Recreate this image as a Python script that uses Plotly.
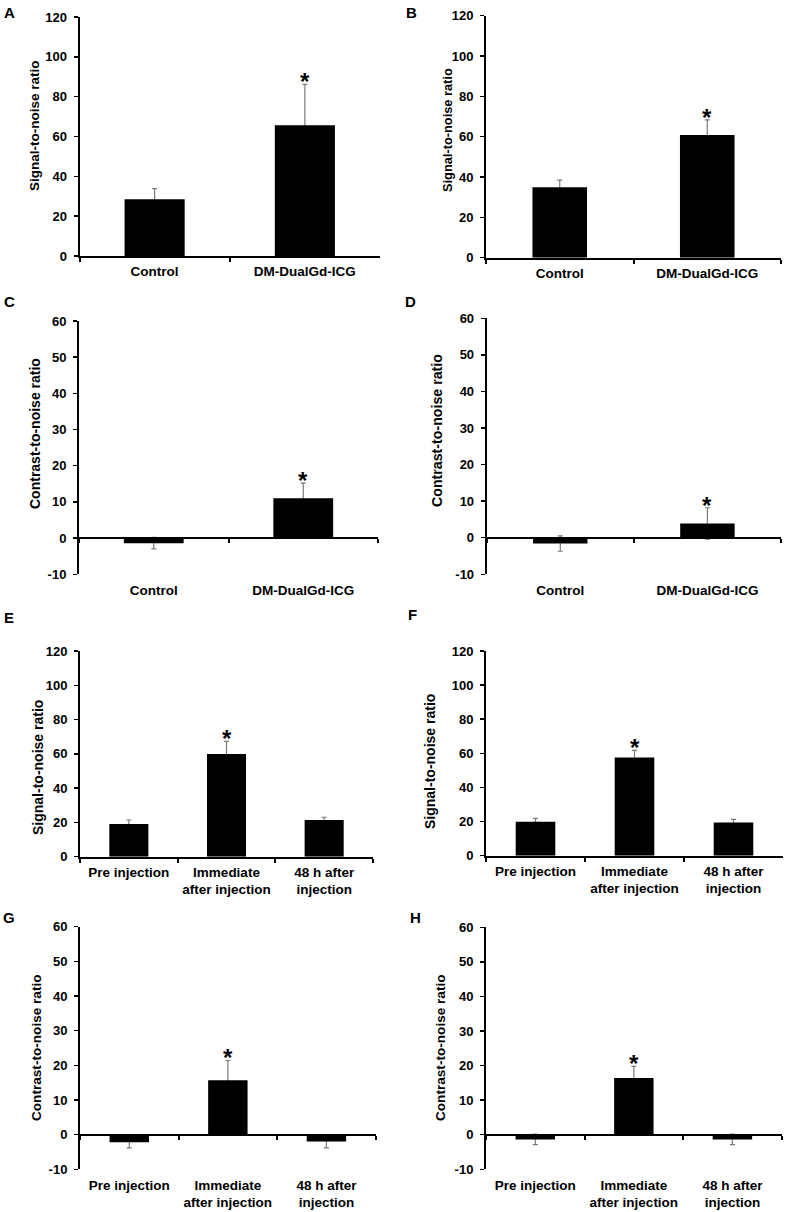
import plotly.graph_objects as go

# ---------------- data ----------------
cats_2 = ["Control", "DM-DualGd-ICG"]
cats_3 = ["Pre injection", "Immediate<br>after injection", "48 h after<br>injection"]

snr_ticks = [0, 20, 40, 60, 80, 100, 120]
cnr_ticks = [-10, 0, 10, 20, 30, 40, 50, 60]

A_snr = [28.5, 65.6]
A_err = [5.3, 20.6]
B_snr = [34.9, 60.8]
B_err = [3.6, 7.5]
C_cnr = [-1.4, 11.0]
C_err = [1.6, 4.2]
D_cnr = [-1.6, 3.9]
D_err = [2.1, 4.3]
E_snr = [19.1, 59.9, 21.4]
E_err = [2.3, 7.4, 1.6]
F_snr = [19.9, 57.6, 19.5]
F_err = [2.0, 4.2, 1.8]
G_cnr = [-2.2, 15.7, -2.0]
G_err = [1.6, 5.7, 1.8]
H_cnr = [-1.35, 16.4, -1.35]
H_err = [1.5, 3.4, 1.5]

sig_2 = [False, True]
sig_3 = [False, True, False]

snr_title = "Signal-to-noise ratio"
cnr_title = "Contrast-to-noise ratio"

# ---------------- layout / style ----------------
W, H = 787, 1212
FONT = "Liberation Sans, Arial, Helvetica, sans-serif"

panels = [
    dict(letter="A", cats=cats_2, vals=A_snr, errs=A_err, sig=sig_2, ticks=snr_ticks, title=snr_title,
         box=(79.5, 380, 17, 256), letter_xy=(9, 12), title_xy=(35, 126), title_size=13.5, barw=0.4),
    dict(letter="B", cats=cats_2, vals=B_snr, errs=B_err, sig=sig_2, ticks=snr_ticks, title=snr_title,
         box=(486, 781, 15.7, 257.7), letter_xy=(411, 12), title_xy=(447, 130), title_size=12.8, barw=0.37),
    dict(letter="C", cats=cats_2, vals=C_cnr, errs=C_err, sig=sig_2, ticks=cnr_ticks, title=cnr_title,
         box=(79, 378, 321, 574.3), letter_xy=(9, 302), title_xy=(35, 434), title_size=14, barw=0.4),
    dict(letter="D", cats=cats_2, vals=D_cnr, errs=D_err, sig=sig_2, ticks=cnr_ticks, title=cnr_title,
         box=(486.7, 781, 318.3, 574.3), letter_xy=(410, 302), title_xy=(437, 431), title_size=14.2, barw=0.37),
    dict(letter="E", cats=cats_3, vals=E_snr, errs=E_err, sig=sig_3, ticks=snr_ticks, title=snr_title,
         box=(80, 373, 651, 856.7), letter_xy=(9, 617), title_xy=(38, 768), title_size=14, barw=0.4),
    dict(letter="F", cats=cats_3, vals=F_snr, errs=F_err, sig=sig_3, ticks=snr_ticks, title=snr_title,
         box=(486, 783, 651, 855.7), letter_xy=(412, 614), title_xy=(430, 762), title_size=14, barw=0.4),
    dict(letter="G", cats=cats_3, vals=G_cnr, errs=G_err, sig=sig_3, ticks=cnr_ticks, title=cnr_title,
         box=(80, 375.7, 926.7, 1169.3), letter_xy=(9, 917), title_xy=(36, 1048), title_size=13.6, barw=0.4),
    dict(letter="H", cats=cats_3, vals=H_cnr, errs=H_err, sig=sig_3, ticks=cnr_ticks, title=cnr_title,
         box=(486, 781.7, 927.3, 1169.3), letter_xy=(415, 917), title_xy=(440, 1048), title_size=13.6, barw=0.4),
]


def px_x(v):
    return v / W


def px_y(v):
    return 1 - v / H


def ax_id(prefix, n):
    return prefix if n == 1 else f"{prefix}{n}"


def ax_key(prefix, n):
    return f"{prefix}axis" if n == 1 else f"{prefix}axis{n}"


fig = go.Figure()
layout = {}
annotations = []

tick_font = dict(family=FONT, size=13, color="black", weight="bold")
cat_font = dict(family=FONT, size=13.5, color="black", weight="bold")

for i, p in enumerate(panels):
    xm, xo, yn = 2 * i + 1, 2 * i + 2, i + 1
    x0, x1, ytop, ybot = p["box"]
    lo, hi = min(p["ticks"]), max(p["ticks"])
    n = len(p["cats"])
    xdom = [px_x(x0), px_x(x1)]
    ydom = [px_y(ybot), px_y(ytop)]
    has_neg = lo < 0

    # error bars (main subplot, drawn underneath the bars)
    fig.add_trace(go.Scatter(
        x=p["cats"], y=p["vals"], mode="markers",
        marker=dict(size=1, color="rgba(0,0,0,0)"),
        error_y=dict(type="data", array=p["errs"], symmetric=True,
                     color="#7a7a7a", thickness=1.2, width=2.5),
        xaxis=ax_id("x", xm), yaxis=ax_id("y", yn), hoverinfo="skip", showlegend=False,
    ))
    # bars (overlay subplot, drawn on top)
    fig.add_trace(go.Bar(
        x=p["cats"], y=p["vals"], width=p["barw"],
        marker=dict(color="black", line=dict(width=0)),
        xaxis=ax_id("x", xo), yaxis=ax_id("y", yn), showlegend=False,
    ))

    base_x = dict(type="category", categoryorder="array", categoryarray=p["cats"],
                  range=[-0.5, n - 0.5], domain=xdom, showgrid=False, zeroline=False,
                  fixedrange=True, tickangle=0, automargin=False)

    if not has_neg:
        layout[ax_key("x", xm)] = dict(
            base_x, anchor=ax_id("y", yn), showline=True, linecolor="black", linewidth=2,
            ticks="outside", tickson="boundaries", ticklen=4, tickwidth=2, tickcolor="black",
            showticklabels=True, tickfont=cat_font, ticklabelstandoff=2)
        layout[ax_key("x", xo)] = dict(
            base_x, anchor=ax_id("y", yn), overlaying=ax_id("x", xm), showline=False,
            ticks="", showticklabels=False)
    else:
        zero_pos = ydom[0] + (0 - lo) / (hi - lo) * (ydom[1] - ydom[0])
        layout[ax_key("x", xm)] = dict(
            base_x, anchor=ax_id("y", yn), showline=False, ticks="",
            showticklabels=True, tickfont=cat_font, ticklabelstandoff=6)
        layout[ax_key("x", xo)] = dict(
            base_x, anchor="free", position=zero_pos, overlaying=ax_id("x", xm),
            showline=True, linecolor="black", linewidth=2,
            ticks="outside", tickson="boundaries", ticklen=4, tickwidth=2, tickcolor="black",
            showticklabels=False)

    layout[ax_key("y", yn)] = dict(
        domain=ydom, anchor=ax_id("x", xm), range=[lo, hi], showgrid=False, zeroline=False,
        showline=True, linecolor="black", linewidth=2,
        ticks="outside", ticklen=4, tickwidth=1.5, tickcolor="black",
        tickmode="array", tickvals=p["ticks"], ticktext=[str(t) for t in p["ticks"]],
        tickfont=tick_font, ticklabelstandoff=4, fixedrange=True, automargin=False)

    # significance stars
    for c, v, e, s in zip(p["cats"], p["vals"], p["errs"], p["sig"]):
        if s:
            annotations.append(dict(
                x=c, y=v + e, xref=ax_id("x", xo), yref=ax_id("y", yn),
                text="*", showarrow=False, xanchor="center", yanchor="bottom",
                yshift=-13, font=dict(family=FONT, size=24, color="black", weight="bold")))

    # y-axis title
    tx, ty = p["title_xy"]
    annotations.append(dict(
        x=px_x(tx), y=px_y(ty), xref="paper", yref="paper", text=p["title"], textangle=-90,
        showarrow=False, xanchor="center", yanchor="middle",
        font=dict(family=FONT, size=p["title_size"], color="black", weight="bold")))

    # panel letter
    lx, ly = p["letter_xy"]
    annotations.append(dict(
        x=px_x(lx), y=px_y(ly), xref="paper", yref="paper", text=p["letter"],
        showarrow=False, xanchor="center", yanchor="middle",
        font=dict(family=FONT, size=15, color="black", weight="bold")))

fig.update_layout(
    width=W, height=H, margin=dict(l=0, r=0, t=0, b=0),
    paper_bgcolor="white", plot_bgcolor="white", showlegend=False,
    annotations=annotations, **layout,
)

fig.write_html(
    "out.html",
    config={"displayModeBar": False, "staticPlot": True},
    post_script="document.body.style.margin='0';document.body.style.overflow='hidden';",
)
